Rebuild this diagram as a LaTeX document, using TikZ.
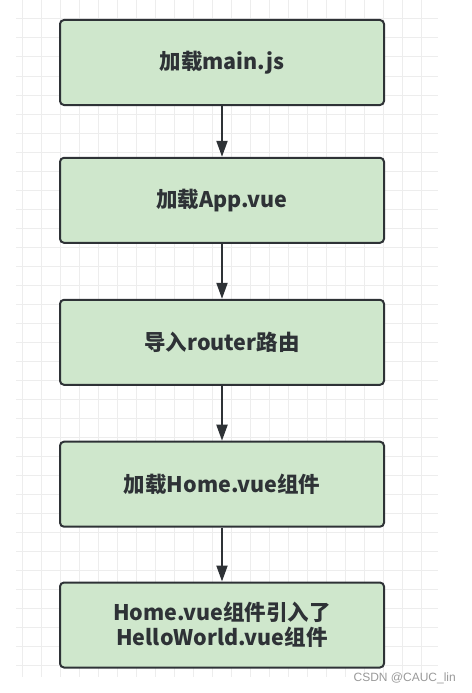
\documentclass[tikz,border=0pt]{standalone}
\usepackage{fontspec}
\setmainfont{Noto Sans CJK SC}
\newfontfamily\markfont{Liberation Sans}
\usetikzlibrary{arrows.meta}
\definecolor{boxfill}{HTML}{CFE7CC}
\definecolor{boxline}{HTML}{2E3236}
\definecolor{gridgray}{HTML}{EDEDED}
\begin{document}
\begin{tikzpicture}[x=1pt,y=-1pt,
  stepbox/.style={draw=boxline,line width=2pt,fill=boxfill,rounded corners=4pt,
    minimum width=324pt,minimum height=85pt,inner sep=0pt,align=center,
    text=boxline,font=\fontsize{21.5}{25}\selectfont\bfseries},
  flow/.style={draw=boxline,line width=2pt,-{Triangle[length=16pt,width=11pt]}}]
  \useasboundingbox (0,0) rectangle (471,693);
  \foreach \gx in {22.7,41.7,...,438} \draw[gridgray,line width=1pt] (\gx,0) -- (\gx,677);
  \foreach \gy in {19,38,...,677} \draw[gridgray,line width=1pt] (16,\gy) -- (438,\gy);
  \path (222,62.5) node[stepbox] (s1) {加载main.js}
  (222,200.3) node[stepbox] (s2) {加载App.vue}
  (222,342.3) node[stepbox] (s3) {导入router路由}
  (222,484.2) node[stepbox] (s4) {加载Home.vue组件}
  (222,625) node[stepbox] (s5) {Home.vue组件引入了\\HelloWorld.vue组件};
  \draw[flow] (s1) -- (s2);
  \draw[flow] (s2) -- (s3);
  \draw[flow] (s3) -- (s4);
  \draw[flow] (s4) -- (s5);
  \node[anchor=east,inner sep=0pt,text=gray!80,font=\markfont\fontsize{12}{14}\selectfont] (mark) at (456,678) {CSDN @CAUC\_lin};
  \end{tikzpicture}
\end{document}
